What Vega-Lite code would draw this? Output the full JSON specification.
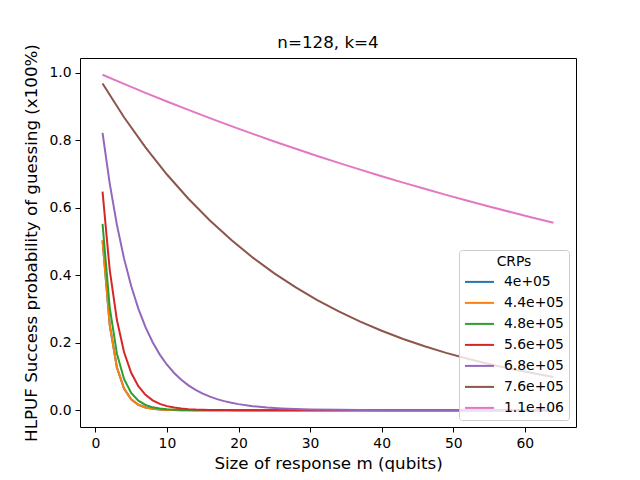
{
  "$schema": "https://vega.github.io/schema/vega-lite/v6.json",
  "autosize": "none",
  "width": 496,
  "height": 369,
  "padding": {"left": 80, "top": 58, "right": 64, "bottom": 53},
  "background": "white",
  "title": {
    "text": "n=128, k=4",
    "font": "DejaVu Sans",
    "fontSize": 16.7,
    "fontWeight": "normal",
    "color": "black",
    "offset": -8
  },
  "data": {
    "values": [
      {"crp": "4e+05", "m": 1, "p": 0.503}, {"crp": "4e+05", "m": 2, "p": 0.253}, {"crp": "4e+05", "m": 3, "p": 0.1273},
      {"crp": "4e+05", "m": 4, "p": 0.064}, {"crp": "4e+05", "m": 5, "p": 0.0322}, {"crp": "4e+05", "m": 6, "p": 0.0162},
      {"crp": "4e+05", "m": 7, "p": 0.0081}, {"crp": "4e+05", "m": 8, "p": 0.0041}, {"crp": "4e+05", "m": 9, "p": 0.0021},
      {"crp": "4e+05", "m": 10, "p": 0.001}, {"crp": "4e+05", "m": 11, "p": 0.0005}, {"crp": "4e+05", "m": 12, "p": 0.0003},
      {"crp": "4e+05", "m": 13, "p": 0.0001}, {"crp": "4e+05", "m": 14, "p": 0.0001}, {"crp": "4e+05", "m": 16, "p": 0},
      {"crp": "4e+05", "m": 20, "p": 0}, {"crp": "4e+05", "m": 30, "p": 0}, {"crp": "4e+05", "m": 40, "p": 0},
      {"crp": "4e+05", "m": 50, "p": 0}, {"crp": "4e+05", "m": 64, "p": 0},

      {"crp": "4.4e+05", "m": 1, "p": 0.503}, {"crp": "4.4e+05", "m": 2, "p": 0.253}, {"crp": "4.4e+05", "m": 3, "p": 0.1273},
      {"crp": "4.4e+05", "m": 4, "p": 0.064}, {"crp": "4.4e+05", "m": 5, "p": 0.0322}, {"crp": "4.4e+05", "m": 6, "p": 0.0162},
      {"crp": "4.4e+05", "m": 7, "p": 0.0081}, {"crp": "4.4e+05", "m": 8, "p": 0.0041}, {"crp": "4.4e+05", "m": 9, "p": 0.0021},
      {"crp": "4.4e+05", "m": 10, "p": 0.001}, {"crp": "4.4e+05", "m": 11, "p": 0.0005}, {"crp": "4.4e+05", "m": 12, "p": 0.0003},
      {"crp": "4.4e+05", "m": 13, "p": 0.0001}, {"crp": "4.4e+05", "m": 14, "p": 0.0001}, {"crp": "4.4e+05", "m": 16, "p": 0},
      {"crp": "4.4e+05", "m": 20, "p": 0}, {"crp": "4.4e+05", "m": 30, "p": 0}, {"crp": "4.4e+05", "m": 40, "p": 0},
      {"crp": "4.4e+05", "m": 50, "p": 0}, {"crp": "4.4e+05", "m": 64, "p": 0},

      {"crp": "4.8e+05", "m": 1, "p": 0.552}, {"crp": "4.8e+05", "m": 2, "p": 0.3047}, {"crp": "4.8e+05", "m": 3, "p": 0.1682},
      {"crp": "4.8e+05", "m": 4, "p": 0.0928}, {"crp": "4.8e+05", "m": 5, "p": 0.0513}, {"crp": "4.8e+05", "m": 6, "p": 0.0283},
      {"crp": "4.8e+05", "m": 7, "p": 0.0156}, {"crp": "4.8e+05", "m": 8, "p": 0.0086}, {"crp": "4.8e+05", "m": 9, "p": 0.0048},
      {"crp": "4.8e+05", "m": 10, "p": 0.0026}, {"crp": "4.8e+05", "m": 11, "p": 0.0015}, {"crp": "4.8e+05", "m": 12, "p": 0.0008},
      {"crp": "4.8e+05", "m": 13, "p": 0.0004}, {"crp": "4.8e+05", "m": 14, "p": 0.0002}, {"crp": "4.8e+05", "m": 16, "p": 0.0001},
      {"crp": "4.8e+05", "m": 20, "p": 0}, {"crp": "4.8e+05", "m": 30, "p": 0}, {"crp": "4.8e+05", "m": 40, "p": 0},
      {"crp": "4.8e+05", "m": 50, "p": 0}, {"crp": "4.8e+05", "m": 64, "p": 0},

      {"crp": "5.6e+05", "m": 1, "p": 0.648}, {"crp": "5.6e+05", "m": 2, "p": 0.4167}, {"crp": "5.6e+05", "m": 3, "p": 0.2679},
      {"crp": "5.6e+05", "m": 4, "p": 0.1723}, {"crp": "5.6e+05", "m": 5, "p": 0.1108}, {"crp": "5.6e+05", "m": 6, "p": 0.0712},
      {"crp": "5.6e+05", "m": 7, "p": 0.0458}, {"crp": "5.6e+05", "m": 8, "p": 0.0294}, {"crp": "5.6e+05", "m": 9, "p": 0.0189},
      {"crp": "5.6e+05", "m": 10, "p": 0.0122}, {"crp": "5.6e+05", "m": 11, "p": 0.0078}, {"crp": "5.6e+05", "m": 12, "p": 0.005},
      {"crp": "5.6e+05", "m": 13, "p": 0.0032}, {"crp": "5.6e+05", "m": 14, "p": 0.0021}, {"crp": "5.6e+05", "m": 16, "p": 0.0009},
      {"crp": "5.6e+05", "m": 18, "p": 0.0004}, {"crp": "5.6e+05", "m": 20, "p": 0.0002}, {"crp": "5.6e+05", "m": 25, "p": 0},
      {"crp": "5.6e+05", "m": 30, "p": 0}, {"crp": "5.6e+05", "m": 40, "p": 0}, {"crp": "5.6e+05", "m": 50, "p": 0},
      {"crp": "5.6e+05", "m": 64, "p": 0},

      {"crp": "6.8e+05", "m": 1, "p": 0.822}, {"crp": "6.8e+05", "m": 2, "p": 0.6724}, {"crp": "6.8e+05", "m": 3, "p": 0.55},
      {"crp": "6.8e+05", "m": 4, "p": 0.4499}, {"crp": "6.8e+05", "m": 5, "p": 0.368}, {"crp": "6.8e+05", "m": 6, "p": 0.3011},
      {"crp": "6.8e+05", "m": 7, "p": 0.2463}, {"crp": "6.8e+05", "m": 8, "p": 0.2014}, {"crp": "6.8e+05", "m": 9, "p": 0.1648},
      {"crp": "6.8e+05", "m": 10, "p": 0.1348}, {"crp": "6.8e+05", "m": 11, "p": 0.1103}, {"crp": "6.8e+05", "m": 12, "p": 0.0902},
      {"crp": "6.8e+05", "m": 13, "p": 0.0738}, {"crp": "6.8e+05", "m": 14, "p": 0.0604}, {"crp": "6.8e+05", "m": 15, "p": 0.0494},
      {"crp": "6.8e+05", "m": 16, "p": 0.0404}, {"crp": "6.8e+05", "m": 17, "p": 0.033}, {"crp": "6.8e+05", "m": 18, "p": 0.027},
      {"crp": "6.8e+05", "m": 19, "p": 0.0221}, {"crp": "6.8e+05", "m": 20, "p": 0.0181}, {"crp": "6.8e+05", "m": 22, "p": 0.0121},
      {"crp": "6.8e+05", "m": 24, "p": 0.0081}, {"crp": "6.8e+05", "m": 26, "p": 0.0054}, {"crp": "6.8e+05", "m": 28, "p": 0.0036},
      {"crp": "6.8e+05", "m": 30, "p": 0.0024}, {"crp": "6.8e+05", "m": 34, "p": 0.0011}, {"crp": "6.8e+05", "m": 40, "p": 0.0003},
      {"crp": "6.8e+05", "m": 48, "p": 0.0001}, {"crp": "6.8e+05", "m": 56, "p": 0}, {"crp": "6.8e+05", "m": 64, "p": 0},

      {"crp": "7.6e+05", "m": 1, "p": 0.968}, {"crp": "7.6e+05", "m": 4, "p": 0.8682}, {"crp": "7.6e+05", "m": 7, "p": 0.7788},
      {"crp": "7.6e+05", "m": 10, "p": 0.6985}, {"crp": "7.6e+05", "m": 13, "p": 0.6266}, {"crp": "7.6e+05", "m": 16, "p": 0.562},
      {"crp": "7.6e+05", "m": 19, "p": 0.5041}, {"crp": "7.6e+05", "m": 22, "p": 0.4521}, {"crp": "7.6e+05", "m": 25, "p": 0.4055},
      {"crp": "7.6e+05", "m": 28, "p": 0.3638}, {"crp": "7.6e+05", "m": 31, "p": 0.3263}, {"crp": "7.6e+05", "m": 34, "p": 0.2927},
      {"crp": "7.6e+05", "m": 37, "p": 0.2625}, {"crp": "7.6e+05", "m": 40, "p": 0.2354}, {"crp": "7.6e+05", "m": 43, "p": 0.2112},
      {"crp": "7.6e+05", "m": 46, "p": 0.1894}, {"crp": "7.6e+05", "m": 49, "p": 0.1699}, {"crp": "7.6e+05", "m": 52, "p": 0.1524},
      {"crp": "7.6e+05", "m": 55, "p": 0.1367}, {"crp": "7.6e+05", "m": 58, "p": 0.1226}, {"crp": "7.6e+05", "m": 61, "p": 0.11},
      {"crp": "7.6e+05", "m": 64, "p": 0.0986},

      {"crp": "1.1e+06", "m": 1, "p": 0.994}, {"crp": "1.1e+06", "m": 4, "p": 0.9668}, {"crp": "1.1e+06", "m": 7, "p": 0.9404},
      {"crp": "1.1e+06", "m": 10, "p": 0.9147}, {"crp": "1.1e+06", "m": 13, "p": 0.8898}, {"crp": "1.1e+06", "m": 16, "p": 0.8655},
      {"crp": "1.1e+06", "m": 19, "p": 0.8418}, {"crp": "1.1e+06", "m": 22, "p": 0.8188}, {"crp": "1.1e+06", "m": 25, "p": 0.7964},
      {"crp": "1.1e+06", "m": 28, "p": 0.7747}, {"crp": "1.1e+06", "m": 31, "p": 0.7535}, {"crp": "1.1e+06", "m": 34, "p": 0.7329},
      {"crp": "1.1e+06", "m": 37, "p": 0.7129}, {"crp": "1.1e+06", "m": 40, "p": 0.6934}, {"crp": "1.1e+06", "m": 43, "p": 0.6745},
      {"crp": "1.1e+06", "m": 46, "p": 0.6561}, {"crp": "1.1e+06", "m": 49, "p": 0.6381}, {"crp": "1.1e+06", "m": 52, "p": 0.6207},
      {"crp": "1.1e+06", "m": 55, "p": 0.6038}, {"crp": "1.1e+06", "m": 58, "p": 0.5873}, {"crp": "1.1e+06", "m": 61, "p": 0.5712},
      {"crp": "1.1e+06", "m": 64, "p": 0.5556}
    ]
  },
  "mark": {"type": "line", "strokeWidth": 2, "clip": true},
  "encoding": {
    "x": {
      "field": "m",
      "type": "quantitative",
      "title": "Size of response m (qubits)",
      "scale": {"domain": [-2.15, 67.15], "nice": false, "zero": false},
      "axis": {"values": [0, 10, 20, 30, 40, 50, 60], "format": "d", "titlePadding": 6}
    },
    "y": {
      "field": "p",
      "type": "quantitative",
      "title": "HLPUF Success probability of guessing (x100%)",
      "scale": {"domain": [-0.0497, 1.0437], "nice": false, "zero": false},
      "axis": {"values": [0, 0.2, 0.4, 0.6, 0.8, 1.0], "format": ".1f", "titlePadding": 8}
    },
    "color": {
      "field": "crp",
      "type": "nominal",
      "scale": {
        "domain": ["4e+05", "4.4e+05", "4.8e+05", "5.6e+05", "6.8e+05", "7.6e+05", "1.1e+06"],
        "range": ["#1f77b4", "#ff7f0e", "#2ca02c", "#d62728", "#9467bd", "#8c564b", "#e377c2"]
      },
      "legend": {
        "title": "CRPs",
        "orient": "bottom-right",
        "offset": 7,
        "titleAnchor": "middle",
        "titlePadding": 2,
        "symbolType": "M-1.45,0H1.45",
        "symbolSize": 400,
        "symbolOffset": 4.5,
        "symbolStrokeWidth": 2,
        "rowPadding": 3,
        "padding": 5,
        "fillColor": "rgba(255,255,255,0.8)",
        "strokeColor": "#cccccc",
        "cornerRadius": 3
      }
    }
  },
  "config": {
    "view": {"stroke": "black", "strokeWidth": 1},
    "font": "DejaVu Sans",
    "axis": {
      "grid": false,
      "domain": false,
      "tickColor": "black",
      "tickSize": 5,
      "labelPadding": 4,
      "labelFont": "DejaVu Sans",
      "labelFontSize": 13.9,
      "labelColor": "black",
      "titleFont": "DejaVu Sans",
      "titleFontSize": 16.7,
      "titleFontWeight": "normal",
      "titleColor": "black"
    },
    "legend": {
      "labelFont": "DejaVu Sans",
      "labelFontSize": 13.9,
      "labelColor": "black",
      "titleFont": "DejaVu Sans",
      "titleFontSize": 13.9,
      "titleFontWeight": "normal",
      "titleColor": "black",
      "labelOffset": 13.5
    }
  }
}
